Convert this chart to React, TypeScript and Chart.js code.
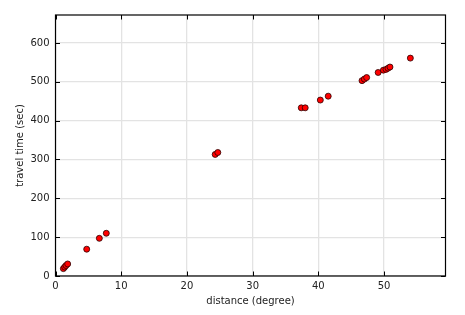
import React, { useEffect, useRef } from "react";
import { Chart, registerables } from "chart.js";

Chart.register(...registerables);

const distances = [1.2, 1.4, 1.6, 1.85, 4.75, 6.67, 7.73, 24.3, 24.7, 37.4, 38.0, 40.3, 41.5, 46.65, 47.0, 47.35, 49.1, 49.9, 50.3, 50.6, 50.9, 54.0];
const travelTimes = [19, 23, 27, 31, 69, 97, 110, 313, 318, 433, 433, 453, 463, 503, 507, 511, 524, 530, 532, 535, 538, 561];
const xTicks = [0, 10, 20, 30, 40, 50];
const yTicks = [0, 100, 200, 300, 400, 500, 600];
const xMax = 59.35;
const yMax = 672;

const frame = {
  id: "frame",
  afterDraw(chart: any) {
    const { ctx, chartArea: a, scales } = chart;
    ctx.save();
    ctx.strokeStyle = "#000";
    ctx.lineWidth = 1;
    const tl = 4.5;
    ctx.beginPath();
    for (const v of xTicks) {
      const px = Math.round(scales.x.getPixelForValue(v)) + 0.5;
      ctx.moveTo(px, a.bottom);
      ctx.lineTo(px, a.bottom - tl);
      ctx.moveTo(px, a.top);
      ctx.lineTo(px, a.top + tl);
    }
    for (const v of yTicks) {
      const py = Math.round(scales.y.getPixelForValue(v)) + 0.5;
      ctx.moveTo(a.left, py);
      ctx.lineTo(a.left + tl, py);
      ctx.moveTo(a.right, py);
      ctx.lineTo(a.right - tl, py);
    }
    ctx.stroke();
    ctx.lineWidth = 1.2;
    ctx.strokeRect(a.left, a.top, a.right - a.left, a.bottom - a.top);
    ctx.restore();
  },
};

export default function App() {
  const ref = useRef<HTMLCanvasElement>(null);
  useEffect(() => {
    document.body.style.margin = "0";
    const chart = new Chart(ref.current!, {
      type: "scatter",
      data: {
        datasets: [
          {
            data: distances.map((d, i) => ({ x: d, y: travelTimes[i] })),
            backgroundColor: "#ff0000",
            borderColor: "#2a0000",
            borderWidth: 0.8,
            pointRadius: 3,
          },
        ],
      },
      options: {
        animation: false,
        responsive: false,
        maintainAspectRatio: false,
        layout: { padding: { top: 15, right: 19.5, left: 0, bottom: 0 } },
        plugins: { legend: { display: false }, tooltip: { enabled: false } },
        scales: {
          x: {
            type: "linear",
            min: 0,
            max: xMax,
            afterBuildTicks: (s: any) => {
              s.ticks = xTicks.map((v) => ({ value: v }));
            },
            afterFit: (s: any) => {
              s.height = 39;
            },
            grid: { color: "#e3e3e3", lineWidth: 1.3, drawTicks: false },
            border: { display: false },
            ticks: { color: "#222", font: { family: "DejaVu Sans", size: 10 }, padding: 4 },
            title: {
              display: true,
              text: "distance (degree)",
              color: "#222",
              font: { family: "DejaVu Sans", size: 10 },
              padding: { top: 0, bottom: 8 },
            },
          },
          y: {
            type: "linear",
            min: 0,
            max: yMax,
            afterBuildTicks: (s: any) => {
              s.ticks = yTicks.map((v) => ({ value: v }));
            },
            afterFit: (s: any) => {
              s.width = 55.5;
            },
            grid: { color: "#e3e3e3", lineWidth: 1.3, drawTicks: false },
            border: { display: false },
            ticks: { color: "#222", font: { family: "DejaVu Sans", size: 10 }, padding: 6 },
            title: {
              display: true,
              text: "travel time (sec)",
              color: "#222",
              font: { family: "DejaVu Sans", size: 10 },
              padding: { top: 14, bottom: 0 },
            },
          },
        },
      },
      plugins: [frame],
    });
    return () => chart.destroy();
  }, []);
  return (
    <div style={{ position: "absolute", left: 0, top: 0, width: 465, height: 315 }}>
      <canvas ref={ref} width={465} height={315} />
    </div>
  );
}
